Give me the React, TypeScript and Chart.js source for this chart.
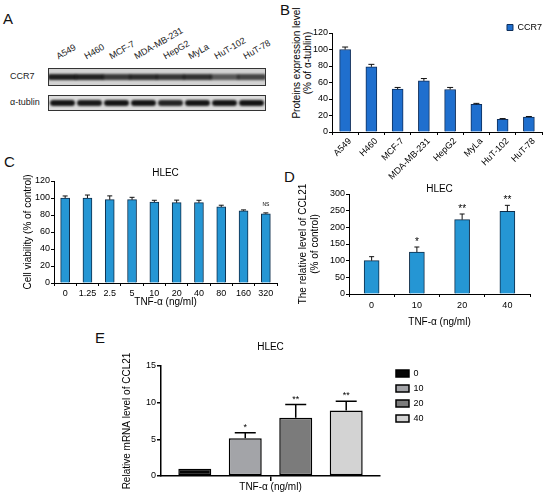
import React, { useEffect, useRef } from "react";
import { Chart, registerables } from "chart.js";

Chart.register(...registerables);

const FONT = "'Liberation Sans', Arial, Helvetica, sans-serif";
Chart.defaults.font.family = FONT;
Chart.defaults.color = "#000";

// panel A (western blot)
const blotLanes = ["A549", "H460", "MCF-7", "MDA-MB-231", "HepG2", "MyLa", "HuT-102", "HuT-78"];
const ccr7Band = [0.92, 0.9, 0.78, 0.84, 0.8, 0.82, 0.62, 0.72];
const tublinBand = [0.95, 0.93, 0.95, 0.95, 0.88, 0.95, 0.95, 0.95];

// panel B
const cellLines = ["A549", "H460", "MCF-7", "MDA-MB-231", "HepG2", "MyLa", "HuT-102", "HuT-78"];
const ccr7Level = [100, 79, 52, 62, 51.5, 33.5, 15.5, 18];
const ccr7Err = [3, 3, 2, 2.8, 2.5, 1.2, 0.8, 0.8];

// panel C
const viabilityDoses = ["0", "1.25", "2.5", "5", "10", "20", "40", "80", "160", "320"];
const viability = [100, 100, 98, 98, 95.3, 94.5, 94.5, 89.5, 85, 81.5];
const viabilityErr = [2.4, 3.5, 4.5, 2.8, 2, 3, 2.8, 2, 1, 1];
const viabilityMarks = ["", "", "", "", "", "", "", "", "", "NS"];

// panel D
const proteinDoses = ["0", "10", "20", "40"];
const ccl21Protein = [100, 126, 223, 248];
const ccl21ProteinErr = [12, 15, 17, 18];
const proteinMarks = ["", "*", "**", "**"];

// panel E
const mrnaDoses = ["0", "10", "20", "40"];
const ccl21Mrna = [1, 5.15, 7.95, 8.93];
const ccl21MrnaErr = [0, 0.75, 1.8, 1.27];
const mrnaMarks = ["", "*", "**", "**"];
const mrnaColors = ["#060606", "#a3a4a8", "#7b7b7b", "#d3d3d3"];

const tickFont = { family: FONT, size: 9 };
const labelFont = { family: FONT, size: 10, lineHeight: 1.2 };

// draws one-sided error bars and significance marks above the bars
const errorBars = {
  id: "errorBars",
  afterDatasetsDraw(chart: any, _args: any, opts: any) {
    const { ctx } = chart;
    const y = chart.scales.y;
    const errs: number[][] = opts.errors || [];
    const marks: string[][] = opts.marks || [];
    ctx.save();
    chart.data.datasets.forEach((ds: any, di: number) => {
      chart.getDatasetMeta(di).data.forEach((bar: any, i: number) => {
        const v = ds.data[i];
        const e = (errs[di] && errs[di][i]) || 0;
        const top = y.getPixelForValue(v + e);
        if (e > 0) {
          ctx.strokeStyle = opts.color || "#000";
          ctx.lineWidth = opts.lineWidth || 1;
          ctx.beginPath();
          ctx.moveTo(bar.x, y.getPixelForValue(v));
          ctx.lineTo(bar.x, top);
          ctx.moveTo(bar.x - opts.cap / 2, top);
          ctx.lineTo(bar.x + opts.cap / 2, top);
          ctx.stroke();
        }
        const m = marks[di] && marks[di][i];
        if (m) {
          ctx.fillStyle = "#000";
          ctx.font = `${opts.markSize || 9}px ${FONT}`;
          ctx.textAlign = "center";
          ctx.textBaseline = "alphabetic";
          ctx.fillText(m, bar.x, top - (opts.markGap || 3));
        }
      });
    });
    ctx.restore();
  },
};

// moves the legend box after layout, so it can sit where the figure has it
const legendNudge = {
  id: "legendNudge",
  afterLayout(chart: any, _args: any, opts: any) {
    const lg = chart.legend;
    if (!lg) return;
    const dx = opts.dx || 0;
    const dy = opts.dy || 0;
    lg.left += dx;
    lg.right += dx;
    lg.top += dy;
    lg.bottom += dy;
  },
};

function yAxis(o: any) {
  return {
    min: 0,
    max: o.max,
    ticks: { stepSize: o.step, font: tickFont, padding: o.tickPad ?? 1, color: "#000" },
    grid: { drawOnChartArea: false, tickLength: o.tickLength ?? 3, color: "#000", lineWidth: o.lineWidth ?? 1 },
    border: { color: "#000", width: o.lineWidth ?? 1 },
    title: o.title
      ? { display: true, text: o.title, font: labelFont, color: "#000", padding: { top: o.titlePad, bottom: 0 } }
      : { display: false },
    afterFit: (s: any) => {
      s.width = o.width;
    },
  };
}

function xAxis(o: any) {
  return {
    type: "category",
    offset: true,
    ticks: {
      font: tickFont,
      padding: o.tickPad ?? 2,
      autoSkip: false,
      maxRotation: o.rotation ?? 0,
      minRotation: o.rotation ?? 0,
      labelOffset: o.labelOffset ?? 0,
      color: "#000",
    },
    grid: {
      drawOnChartArea: false,
      offset: o.gridOffset ?? true,
      tickLength: o.tickLength ?? 3,
      color: "#000",
      lineWidth: o.lineWidth ?? 1,
    },
    border: { color: "#000", width: o.lineWidth ?? 1 },
    title: o.title
      ? { display: true, text: o.title, font: labelFont, color: "#000", padding: { top: 0, bottom: o.titlePad } }
      : { display: false },
    afterFit: (s: any) => {
      s.height = o.height;
    },
  };
}

function hlecTitle(top: number, bottom: number, lineHeight = 1) {
  return {
    display: true,
    text: "HLEC",
    fullSize: false,
    color: "#000",
    font: { family: FONT, size: 10, weight: "normal", lineHeight },
    padding: { top, bottom },
  };
}

function configB(): any {
  return {
    type: "bar",
    data: {
      labels: cellLines,
      datasets: [
        {
          label: "CCR7",
          data: ccr7Level,
          backgroundColor: "#1f6fce",
          borderColor: "#0f2f5c",
          borderWidth: 1,
          barThickness: 11,
        },
      ],
    },
    options: {
      animation: false,
      responsive: true,
      maintainAspectRatio: false,
      layout: { padding: { left: 0, right: 8, top: 0, bottom: 0 } },
      plugins: {
        legend: {
          position: "top",
          align: "end",
          fullSize: false,
          labels: { boxWidth: 6, boxHeight: 6, padding: 2, font: tickFont, color: "#000" },
        },
        tooltip: { enabled: false },
        errorBars: { errors: [ccr7Err], cap: 6, color: "#111" },
        legendNudge: { dx: 2, dy: 9 },
      },
      scales: {
        x: xAxis({ height: 58, rotation: 45, labelOffset: 5, tickPad: 1 }),
        y: yAxis({ max: 120, step: 20, width: 52 }),
      },
    },
    plugins: [errorBars, legendNudge],
  };
}

function configC(): any {
  return {
    type: "bar",
    data: {
      labels: viabilityDoses,
      datasets: [
        {
          label: "Cell viability",
          data: viability,
          backgroundColor: "#2596d4",
          borderColor: "#0e2d4a",
          borderWidth: 1,
          barThickness: 9,
        },
      ],
    },
    options: {
      animation: false,
      responsive: true,
      maintainAspectRatio: false,
      layout: { padding: { left: 0, right: 13, top: 0, bottom: 0 } },
      plugins: {
        legend: { display: false },
        title: hlecTitle(8, 3),
        tooltip: { enabled: false },
        errorBars: { errors: [viabilityErr], marks: [viabilityMarks], cap: 5, markSize: 5, markGap: 7, color: "#111" },
      },
      scales: {
        x: xAxis({ height: 37, title: "TNF-\u03b1 (ng/ml)", titlePad: 12, tickPad: 2 }),
        y: yAxis({ max: 120, step: 20, width: 54, title: "Cell viability (% of control)", titlePad: 22 }),
      },
    },
    plugins: [errorBars],
  };
}

function configD(): any {
  return {
    type: "bar",
    data: {
      labels: proteinDoses,
      datasets: [
        {
          label: "CCL21",
          data: ccl21Protein,
          backgroundColor: "#2596d4",
          borderColor: "#0e2d4a",
          borderWidth: 1,
          barThickness: 15,
        },
      ],
    },
    options: {
      animation: false,
      responsive: true,
      maintainAspectRatio: false,
      layout: { padding: { left: 0, right: 20, top: 0, bottom: 0 } },
      plugins: {
        legend: { display: false },
        title: hlecTitle(8, 0),
        tooltip: { enabled: false },
        errorBars: { errors: [ccl21ProteinErr], marks: [proteinMarks], cap: 5, markSize: 10, markGap: 2.5, color: "#111" },
      },
      scales: {
        x: xAxis({ height: 34, title: "TNF-\u03b1 (ng/ml)", titlePad: 0, tickPad: 3 }),
        y: yAxis({
          max: 300,
          step: 50,
          width: 59,
          title: ["The relative level of CCL21", "(% of control)"],
          titlePad: 7,
        }),
      },
    },
    plugins: [errorBars],
  };
}

function configE(): any {
  return {
    type: "bar",
    data: {
      labels: [""],
      datasets: mrnaDoses.map((dose, i) => ({
        label: dose,
        data: [ccl21Mrna[i]],
        backgroundColor: mrnaColors[i],
        borderColor: "#000",
        borderWidth: 1.5,
        borderSkipped: false,
        categoryPercentage: 0.922,
        barPercentage: 0.653,
      })),
    },
    options: {
      animation: false,
      responsive: true,
      maintainAspectRatio: false,
      layout: { padding: { left: 0, right: 31.5, top: 0, bottom: 0 } },
      plugins: {
        legend: {
          position: "right",
          align: "start",
          fullSize: false,
          labels: { boxWidth: 13, boxHeight: 7, padding: 6, font: tickFont, color: "#000" },
        },
        title: hlecTitle(9, 13, 1.2),
        tooltip: { enabled: false },
        errorBars: {
          errors: ccl21MrnaErr.map((e) => [e]),
          marks: mrnaMarks.map((m) => [m]),
          cap: 21,
          lineWidth: 1.5,
          markSize: 9,
          markGap: 3,
          color: "#000",
        },
        legendNudge: { dx: 10, dy: -3 },
      },
      scales: {
        x: xAxis({
          height: 25,
          title: "TNF-\u03b1 (ng/ml)",
          titlePad: 8,
          gridOffset: false,
          tickLength: 5,
          lineWidth: 1.5,
        }),
        y: yAxis({
          max: 15,
          step: 5,
          width: 66,
          title: "Relative mRNA level of CCL21",
          titlePad: 26,
          tickLength: 4,
          lineWidth: 1.5,
        }),
      },
    },
    plugins: [errorBars, legendNudge],
  };
}

function ChartBox({ left, top, width, height, build }: any): JSX.Element {
  const canvasRef = useRef<HTMLCanvasElement | null>(null);

  useEffect(() => {
    if (!canvasRef.current) return;
    const chart = new Chart(canvasRef.current, build());
    return () => {
      chart.destroy();
    };
  }, []);

  return (
    <div style={{ position: "absolute", left, top, width, height }}>
      <canvas ref={canvasRef}></canvas>
    </div>
  );
}

function PanelLetter({ text, left, top }: { text: string; left: number; top: number }) {
  return (
    <div style={{ position: "absolute", left, top, fontSize: 15, lineHeight: "15px", color: "#111" }}>{text}</div>
  );
}

function Blot(): JSX.Element {
  const laneW = 27;
  const labelX = [60, 88, 113, 138, 167, 192, 218, 247];
  return (
    <>
      {blotLanes.map((name, i) => (
        <span
          key={name}
          style={{
            position: "absolute",
            left: labelX[i],
            top: 51,
            fontSize: 9,
            lineHeight: "11px",
            whiteSpace: "nowrap",
            transformOrigin: "0 100%",
            transform: "rotate(-30deg)",
            color: "#222",
          }}
        >
          {name}
        </span>
      ))}
      <div style={{ position: "absolute", left: 10, top: 71, fontSize: 9, lineHeight: "11px", color: "#222" }}>CCR7</div>
      <div style={{ position: "absolute", left: 10, top: 97, fontSize: 9, lineHeight: "11px", color: "#222" }}>
        α-tublin
      </div>
      <div
        style={{
          position: "absolute",
          left: 48,
          top: 68,
          width: 216,
          height: 16,
          border: "1px solid #333",
          background: "#d2d2d2",
          overflow: "hidden",
        }}
      >
        {ccr7Band.map((d, i) => (
          <div
            key={i}
            style={{
              position: "absolute",
              left: i * laneW - 1,
              width: laneW + 2,
              top: 5,
              height: 5 + d * 1.5,
              background: `rgba(15,15,15,${d})`,
              filter: "blur(1px)",
              borderRadius: 2,
            }}
          />
        ))}
      </div>
      <div
        style={{
          position: "absolute",
          left: 48,
          top: 95,
          width: 216,
          height: 14,
          border: "1px solid #333",
          background: "#dcdcdc",
          overflow: "hidden",
        }}
      >
        {tublinBand.map((d, i) => (
          <div
            key={i}
            style={{
              position: "absolute",
              left: i * laneW + 1,
              width: laneW - 2,
              top: 4,
              height: 6,
              background: `rgba(10,10,10,${d})`,
              filter: "blur(0.8px)",
              borderRadius: 3,
            }}
          />
        ))}
      </div>
    </>
  );
}

export default function App(): JSX.Element {
  return (
    <div
      style={{
        position: "fixed",
        left: 0,
        top: 0,
        width: 550,
        height: 501,
        background: "#fff",
        overflow: "hidden",
        fontFamily: FONT,
      }}
    >
      <PanelLetter text="A" left={3} top={11} />
      <PanelLetter text="B" left={280} top={2} />
      <PanelLetter text="C" left={4} top={154} />
      <PanelLetter text="D" left={284} top={169} />
      <PanelLetter text="E" left={95} top={330} />
      <Blot />
      <div
        style={{
          position: "absolute",
          left: 237,
          top: 52,
          width: 130,
          height: 22,
          fontSize: 10,
          lineHeight: "11px",
          textAlign: "center",
          transform: "rotate(-90deg)",
          whiteSpace: "nowrap",
        }}
      >
        Proteins expression level
        <br />
        (% of α-tublin)
      </div>
      <ChartBox left={280} top={12} width={270} height={178} build={configB} />
      <ChartBox left={0} top={160} width={290} height={160} build={configC} />
      <ChartBox left={290} top={176} width={260} height={152} build={configD} />
      <ChartBox left={95} top={332} width={360} height={169} build={configE} />
    </div>
  );
}
